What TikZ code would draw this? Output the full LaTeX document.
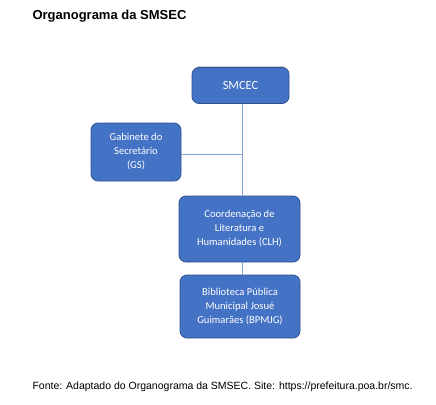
\documentclass[tikz,border=0pt]{standalone}
\usepackage{fontspec}
\setmainfont{Liberation Sans}
\newfontfamily\boxfont{Carlito}
\definecolor{boxfill}{HTML}{4472C4}
\definecolor{boxedge}{HTML}{2F528F}
\definecolor{linkcol}{HTML}{7FA0DC}
\begin{document}
\begin{tikzpicture}[x=1pt,y=-1pt,
  orgbox/.style={draw=boxedge, line width=0.8pt, fill=boxfill, rounded corners=7pt,
    text=white, font=\boxfont\fontsize{10.6}{14}\selectfont, align=center,
    inner sep=0pt},
  conn/.style={draw=linkcol, line width=0.9pt}]
\useasboundingbox (0,0) rectangle (436,404);
\node[anchor=west, font=\bfseries\fontsize{13}{15}\selectfont] (title) at (29,16) {Organograma da SMSEC};
\fill[black!18, rounded corners=7pt] (193,66) rectangle (289,90);
\node[orgbox, minimum width=97pt, minimum height=36pt, font=\boxfont\fontsize{12.4}{14}\selectfont] (smcec) at (240.5,85.5) {SMCEC};
\node[orgbox, minimum width=90pt, minimum height=58pt] (gs) at (136,152) {Gabinete do\\Secretário\\(GS)};
\node[orgbox, minimum width=121pt, minimum height=66pt] (clh) at (239.5,229) {Coordenação de\\Literatura e\\Humanidades (CLH)};
\node[orgbox, minimum width=120pt, minimum height=63pt] (bp) at (240,306.5) {Biblioteca Pública\\Municipal Josué\\Guimarães (BPMJG)};
\coordinate (j) at (242,154);
\draw[conn] (smcec.south -| j) -- (clh.north -| j);
\draw[conn] (gs.east |- j) -- (j);
\draw[conn] (clh.south -| j) -- (bp.north -| j);
\node[anchor=west, font=\fontsize{10.5}{12}\selectfont] (src) at (29,387) {Fonte: Adaptado do Organograma da SMSEC. Site: https://prefeitura.poa.br/smc.};
\end{tikzpicture}
\end{document}
